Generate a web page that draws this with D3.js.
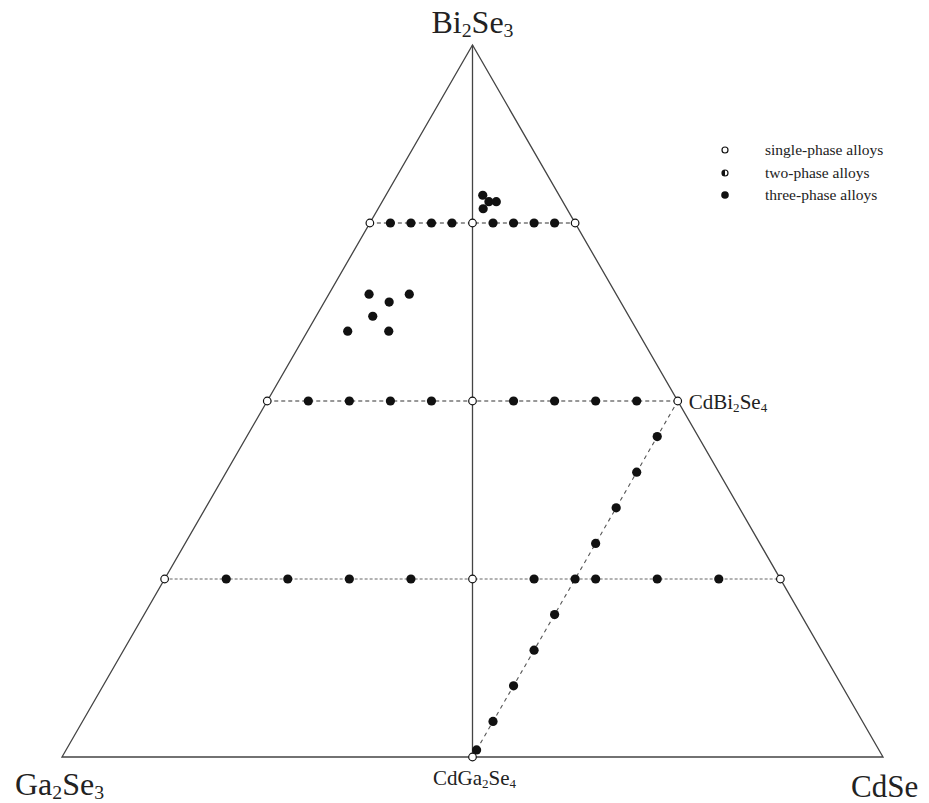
<!DOCTYPE html>
<html>
<head>
<meta charset="utf-8">
<script src="https://cdn.jsdelivr.net/npm/d3@7"></script>
<style>
  html, body { margin: 0; padding: 0; background: #fff; }
  svg { display: block; }
  text { font-family: "Liberation Serif", "DejaVu Serif", serif; fill: #222; }
</style>
</head>
<body>
<svg id="chart" width="929" height="803"></svg>
<script>
// Ga2Se3 – CdSe – Bi2Se3 composition triangle (mole fractions).
// Each point: [Bi2Se3 fraction, CdSe fraction]; Ga2Se3 is the remainder.

// Phase codes: 1 = single-phase, 2 = two-phase, 3 = three-phase
const phaseNames = ["single-phase alloys", "two-phase alloys", "three-phase alloys"];

// Isoplethal sections at constant Bi2Se3 content
const sectionLevels = [0.75, 0.5, 0.25];
const section75Cd = [0, 0.025, 0.05, 0.075, 0.1, 0.125, 0.15, 0.175, 0.2, 0.225, 0.25];
const section75Phase = [1, 3, 3, 3, 3, 1, 3, 3, 3, 3, 1];
const section50Cd = [0, 0.05, 0.1, 0.15, 0.2, 0.25, 0.3, 0.35, 0.4, 0.45, 0.5];
const section50Phase = [1, 3, 3, 3, 3, 1, 3, 3, 3, 3, 1];
const section25Cd = [0, 0.075, 0.15, 0.225, 0.3, 0.375, 0.45, 0.5, 0.525, 0.6, 0.675, 0.75];
const section25Phase = [1, 3, 3, 3, 3, 1, 3, 3, 3, 3, 3, 1];

// CdGa2Se4 – CdBi2Se4 section (CdSe = 0.5)
const joinCd = 0.5;
const joinBi = [0, 0.01, 0.05, 0.1, 0.15, 0.2, 0.3, 0.35, 0.4, 0.45];
const joinPhase = [1, 3, 3, 3, 3, 3, 3, 3, 3, 3];

// Additional alloys in the Bi2Se3-rich region
const clusterA = [[0.789, 0.118], [0.780, 0.130], [0.780, 0.139], [0.770, 0.128]];
const clusterB = [[0.650, 0.049], [0.639, 0.079], [0.650, 0.098], [0.619, 0.069], [0.598, 0.049], [0.598, 0.099]];

const svg = d3.select("#chart");

// Cartesian mapping of the triangle
const sx = d3.scaleLinear().domain([0, 1]).range([62, 883]);
const sy = d3.scaleLinear().domain([0, 1]).range([757, 45]);
const px = (bi, cd) => sx(cd + bi / 2);
const py = (bi) => sy(bi);

const line = d3.line().x(d => px(d[0], d[1])).y(d => py(d[0]));

// Triangle outline
svg.append("path")
  .attr("d", line([[0, 0], [0, 1], [1, 0]]) + "Z")
  .attr("fill", "none").attr("stroke", "#444").attr("stroke-width", 1.3);

// Bi2Se3 – CdGa2Se4 section
svg.append("path")
  .attr("d", line([[1, 0], [0, 0.5]]))
  .attr("fill", "none").attr("stroke", "#444").attr("stroke-width", 1.3);

// Constant-Bi2Se3 sections
const sectionDash = ["4,3", "4,3", "3,2"];
const sectionColor = ["#333", "#333", "#666"];
sectionLevels.forEach((b, i) => {
  svg.append("path")
    .attr("d", line([[b, 0], [b, 1 - b]]))
    .attr("fill", "none").attr("stroke", sectionColor[i])
    .attr("stroke-width", 1.1).attr("stroke-dasharray", sectionDash[i]);
});

// CdGa2Se4 – CdBi2Se4 section
svg.append("path")
  .attr("d", line([[0, joinCd], [0.5, joinCd]]))
  .attr("fill", "none").attr("stroke", "#555")
  .attr("stroke-width", 1.1).attr("stroke-dasharray", "4,4");

// Collect all alloy points
const points = [];
[[sectionLevels[0], section75Cd, section75Phase],
 [sectionLevels[1], section50Cd, section50Phase],
 [sectionLevels[2], section25Cd, section25Phase]].forEach(([b, cds, ph]) => {
  cds.forEach((c, i) => points.push({ bi: b, cd: c, phase: ph[i] }));
});
joinBi.forEach((b, i) => points.push({ bi: b, cd: joinCd, phase: joinPhase[i] }));
clusterA.concat(clusterB).forEach(d => points.push({ bi: d[0], cd: d[1], phase: 3 }));

function drawMarker(g, x, y, phase, r) {
  if (phase === 1) {
    g.append("circle").attr("cx", x).attr("cy", y).attr("r", r - 0.6)
      .attr("fill", "#fff").attr("stroke", "#111").attr("stroke-width", 1.2);
  } else if (phase === 2) {
    g.append("circle").attr("cx", x).attr("cy", y).attr("r", r - 0.6)
      .attr("fill", "#fff").attr("stroke", "#111").attr("stroke-width", 1.2);
    g.append("path")
      .attr("d", d3.arc()({ innerRadius: 0, outerRadius: r - 0.6, startAngle: Math.PI, endAngle: 2 * Math.PI }))
      .attr("transform", `translate(${x},${y})`).attr("fill", "#111");
  } else {
    g.append("circle").attr("cx", x).attr("cy", y).attr("r", r).attr("fill", "#111");
  }
}

const gPts = svg.append("g");
// filled first, open markers on top
points.slice().sort((a, b) => b.phase - a.phase).forEach(d => {
  drawMarker(gPts, px(d.bi, d.cd), py(d.bi), d.phase, d.phase === 3 ? 4.6 : 4.4);
});

// Labels with subscripts: strings are normal text, [str] are subscripts
function chem(x, y, parts, size, anchor) {
  const t = svg.append("text").attr("x", x).attr("y", y)
    .attr("font-size", size).attr("text-anchor", anchor || "start");
  let shifted = false;
  parts.forEach(p => {
    const sub = typeof p !== "string";
    const s = t.append("tspan").text(sub ? p[0] : p);
    if (sub) {
      s.attr("font-size", size * 0.62).attr("dy", shifted ? 0 : size * 0.12);
      shifted = true;
    } else if (shifted) {
      s.attr("dy", -size * 0.12);
      shifted = false;
    }
  });
  return t;
}

chem(px(1, 0), 33, ["Bi", ["2"], "Se", ["3"]], 32, "middle");
chem(15, 795, ["Ga", ["2"], "Se", ["3"]], 32, "start");
chem(851, 797, ["CdSe"], 31, "start");
chem(px(0.5, 0.5) + 11, 409, ["CdBi", ["2"], "Se", ["4"]], 21, "start");
chem(px(0, 0.5) + 2, 785, ["CdGa", ["2"], "Se", ["4"]], 21, "middle");

// Legend
const legendY = [150, 173, 195];
const lg = svg.append("g");
phaseNames.forEach((name, i) => {
  drawMarker(lg, 725, legendY[i], i + 1, i === 2 ? 3.8 : 3.6);
  lg.append("text").attr("x", 765).attr("y", legendY[i] + 5)
    .attr("font-size", 15.5).text(name);
});
</script>
</body>
</html>
